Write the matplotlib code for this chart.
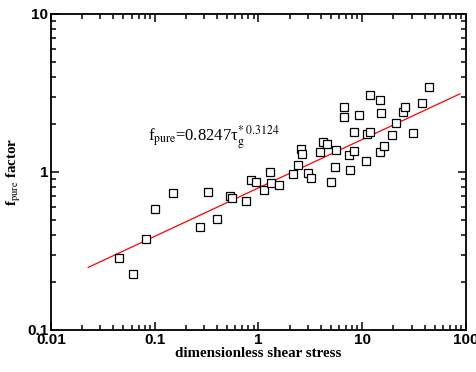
import matplotlib
matplotlib.use("Agg")
import matplotlib.pyplot as plt

# dimensionless shear stress vs f_pure factor
tau = [0.045, 0.0622, 0.082, 0.1016, 0.1505, 0.276, 0.3256, 0.3976, 0.531, 0.562,
       0.757, 0.852, 0.952, 1.138, 1.28, 1.329, 1.588, 2.134, 2.406, 2.549,
       2.607, 3.025, 3.234, 3.95, 4.195, 4.583, 5.044, 5.512, 5.55, 6.63,
       6.73, 7.52, 7.69, 8.28, 8.41, 9.25, 10.98, 11.23, 11.81, 12.0,
       14.89, 14.99, 15.09, 16.13, 19.56, 21.24, 24.82, 25.72, 30.52, 37.52, 43.55]
f_pure = [0.284, 0.226, 0.375, 0.586, 0.736, 0.449, 0.744, 0.502, 0.702, 0.682,
          0.655, 0.886, 0.868, 0.769, 1.0, 0.848, 0.831, 0.971, 1.112, 1.398,
          1.30, 0.981, 0.916, 1.332, 1.555, 1.51, 0.864, 1.080, 1.384, 2.578,
          2.239, 1.281, 1.034, 1.791, 1.364, 2.295, 1.174, 1.747, 3.085, 1.784,
          1.339, 2.868, 2.373, 1.454, 1.722, 2.042, 2.398, 2.590, 1.765, 2.722, 3.436]

# fitted line end points
fit_x = [0.0229, 87.3]
fit_y = [0.249, 3.12]

plt.rcParams['mathtext.fontset'] = 'stix'

fig = plt.figure(figsize=(4.76, 3.72), dpi=100)
ax = fig.add_axes([0.107, 0.113, 0.872, 0.8495])

ax.plot(fit_x, fit_y, color='red', lw=0.9)
ax.plot(tau, f_pure, 's', ms=5.5, mfc='white', mec='black', mew=0.9)

ax.set_xscale('log')
ax.set_yscale('log')
ax.set_xlim(0.01, 100)
ax.set_ylim(0.1, 10)

ax.set_xticks([0.01, 0.1, 1, 10, 100])
ax.set_xticklabels(['0.01', '0.1', '1', '10', '100'])
ax.set_yticks([0.1, 1, 10])
ax.set_yticklabels(['0.1', '1', '10'])

ax.tick_params(which='both', direction='in', top=True, right=True, width=1.1)
ax.tick_params(which='major', length=6, pad=2)
ax.tick_params(which='minor', length=3.5)
for lab in ax.get_xticklabels() + ax.get_yticklabels():
    lab.set_fontfamily('Liberation Sans')
    lab.set_fontweight('bold')
    lab.set_fontsize(11)
for sp in ax.spines.values():
    sp.set_linewidth(1.3)

ax.set_xlabel('dimensionless shear stress', family='Liberation Serif',
              fontweight='bold', fontsize=10.8, labelpad=0)
ax.set_ylabel(r'f$_{\mathrm{pure}}$ factor', family='Liberation Serif',
              fontweight='bold', fontsize=10.8, labelpad=3)

ax.text(0.0864, 1.58, r'f$_{\mathrm{pure}}$=0.8247τ$_{\mathrm{g}}^{*\ 0.3124}$',
        family='Liberation Serif', fontsize=12)

fig.savefig('out.png', dpi=100)
